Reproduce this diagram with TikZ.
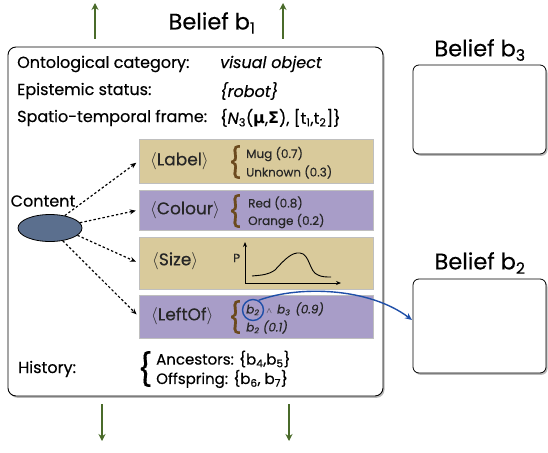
\documentclass[tikz,border=0pt]{standalone}
\usepackage{fontspec}
\setmainfont{Poppins}[FakeBold=0.35]
\newfontfamily\greekfont{DejaVu Sans}
\usetikzlibrary{shadows,arrows.meta,calc,shapes.geometric}
\definecolor{bandtan}{HTML}{D9CA9B}
\definecolor{bandlilac}{HTML}{A89DC8}
\definecolor{bracebrown}{HTML}{6B4A1E}
\definecolor{leafgreen}{HTML}{4A6B2A}
\definecolor{linkblue}{HTML}{1F4FA8}
\definecolor{slateblue}{HTML}{5B6F8E}
\newcommand{\gr}[1]{{\greekfont\bfseries #1}}
\begin{document}
\begin{tikzpicture}[x=1pt,y=-1pt,
  beliefbox/.style={draw=black, line width=0.9pt, fill=white, rounded corners=8pt,
    drop shadow={shadow xshift=1.5pt, shadow yshift=-1.8pt, opacity=0.55}},
  band/.style={draw=black!25, line width=0.6pt, minimum width=234pt, inner sep=0pt},
  title/.style={font=\fontsize{22.5}{24}\selectfont},
  field/.style={anchor=west, font=\fontsize{16}{18}\selectfont, inner sep=0pt},
  bandlab/.style={anchor=west, font=\fontsize{17}{19}\selectfont, text=black!85, inner sep=0pt},
  small/.style={anchor=west, font=\fontsize{12}{18}\selectfont, text=black!85, inner sep=0pt, align=left},
  bracetxt/.style={font=\fontsize{30}{30}\selectfont, text=bracebrown, inner sep=0pt},
  dotarrow/.style={dash pattern=on 2.4pt off 2.2pt, line width=1.2pt, -{Stealth[length=6pt,width=5pt]}, shorten >=3pt},
  greenarrow/.style={leafgreen, line width=1.8pt, -{Stealth[length=7pt,width=7pt]}}
]
\useasboundingbox (0,0) rectangle (548,452);

% main belief box
\node[beliefbox, minimum width=375pt, minimum height=349pt] (main) at (195.5,221.5) {};
\node[title] (t1) at (212,23) {Belief b\textsubscript{1}};

% side beliefs
\node[beliefbox, line width=0.8pt, rounded corners=6pt, minimum width=133pt, minimum height=89pt] (b3box) at (479.5,109.5) {};
\node[title] (t3) at (480,50) {Belief b\textsubscript{3}};
\node[beliefbox, line width=0.8pt, rounded corners=6pt, minimum width=133pt, minimum height=94pt] (b2box) at (479.5,326) {};
\node[title] (t2) at (480,263) {Belief b\textsubscript{2}};

% green links to neighbouring beliefs
\coordinate (upA) at (95,3);
\coordinate (upB) at (283,3);
\coordinate (dnA) at (102,441);
\coordinate (dnB) at (289,441);
\coordinate (upAs) at (95,39);
\coordinate (upBs) at (283,39);
\coordinate (dnAs) at (102,404);
\coordinate (dnBs) at (289,404);
\draw[greenarrow] (upAs) -- (upA);
\draw[greenarrow] (upBs) -- (upB);
\draw[greenarrow] (dnAs) -- (dnA);
\draw[greenarrow] (dnBs) -- (dnB);

% header fields
\node[field] (f1) at (17,64) {Ontological category:};
\node[field] (v1) at (220,64) {\itshape visual object};
\node[field] (f2) at (17,91) {Epistemic status:};
\node[field] (v2) at (220,91) {\itshape \{robot\}};
\node[field] (f3) at (17,118) {Spatio-temporal frame:};
\node[field] (v3) at (220,118) {\{\textit{N}\textsubscript{3}(\gr{μ},\gr{Σ}), [t\textsubscript{1},t\textsubscript{2}]\}};

% content bands
\node[band, fill=bandtan, minimum height=44pt] (label) at (256,161) {};
\node[band, fill=bandlilac, minimum height=40pt] (colour) at (256,210) {};
\node[band, fill=bandtan, minimum height=52pt] (size) at (256,263) {};
\node[band, fill=bandlilac, minimum height=43pt] (leftof) at (256,316.5) {};

\node[bandlab] (labeltxt) at (150,161) {$\langle$Label$\rangle$};
\node[bracetxt] (br1) at (235,162) {\{};
\node[small] (mug) at (246,154) {Mug (0.7)};
\node[small] (unknown) at (246,172) {Unknown (0.3)};

\node[bandlab] (colourtxt) at (150,210) {$\langle$Colour$\rangle$};
\node[bracetxt] (br2) at (235,211) {\{};
\node[small] (red) at (248,203) {Red (0.8)};
\node[small] (orange) at (248,221) {Orange (0.2)};

\node[bandlab] (sizetxt) at (152,261) {$\langle$Size$\rangle$};
\node[small] (ptxt) at (233,258) {P};
\draw[line width=0.9pt, -{Stealth[length=5pt,width=4pt]}] (245,283) -- (245,242);
\draw[line width=0.9pt, -{Stealth[length=5pt,width=4pt]}] (245,283) -- (341,283);
\draw[line width=0.9pt] (252,276) .. controls (262,275) and (268,275) .. (275,270)
  .. controls (285,259) and (292,252) .. (300,253)
  .. controls (310,254) and (309,272) .. (318,275)
  .. controls (322,277) and (326,277) .. (331,277);

\node[bandlab] (leftoftxt) at (151,316) {$\langle$LeftOf$\rangle$};
\node[bracetxt] (br4) at (235,317) {\{};
\node[small] (lo1) at (246,309) {\itshape b\textsubscript{2}\hspace{7pt}{\upshape$\scriptstyle\wedge$}\hspace{5pt}b\textsubscript{3}\hspace{5pt}(0.9)};
\node[small] (lo2) at (246,327) {\itshape b\textsubscript{2} (0.1)};
\node[draw=linkblue, line width=1.4pt, circle, minimum size=21pt, inner sep=0pt] (b2ring) at (253,310) {};

% content ellipse
\node[field, anchor=center] (contenttxt) at (43,201) {Content};
\node[draw=black, line width=0.8pt, fill=slateblue, ellipse, minimum width=64pt, minimum height=27pt] (content) at (50,228) {};
\draw[dotarrow] (content.40) -- (label.west);
\draw[dotarrow] (content.10) -- (colour.west);
\draw[dotarrow] (content.-15) -- (size.west);
\draw[dotarrow] (content.-45) -- (leftof.west);

% history
\node[field] (hist) at (18,369) {History:};
\node[font=\fontsize{32}{32}\selectfont, inner sep=0pt] (br5) at (145,369) {\{};
\node[field, font=\fontsize{15}{16}\selectfont] (anc) at (156,359) {Ancestors: \{b\textsubscript{4},b\textsubscript{5}\}};
\node[field, font=\fontsize{15}{16}\selectfont] (off) at (156,379) {Offspring: \{b\textsubscript{6}, b\textsubscript{7}\}};

% reference from b2 to the b2 belief
\coordinate (b2in) at (412,320);
\draw[linkblue, line width=1.4pt, -{Stealth[length=7pt,width=6pt]}]
  (b2ring.60) .. controls (300,285) and (370,288) .. (b2in);
\end{tikzpicture}
\end{document}
